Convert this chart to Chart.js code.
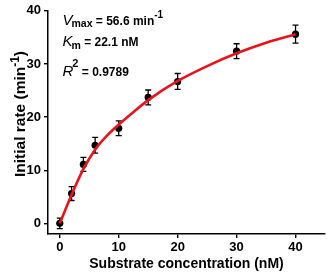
<!DOCTYPE html>
<html>
<head>
<meta charset="utf-8">
<script src="https://cdn.jsdelivr.net/npm/chart.js@4"></script>
<style>
  html, body { margin: 0; padding: 0; background: #fff; }
  #wrap { width: 331px; height: 277px; }
</style>
</head>
<body>
<div id="wrap"><canvas id="c" width="331" height="277"></canvas></div>
<script>
// Measured data (substrate concentration, nM) and initial rate (min^-1)
const substrate = [0, 2, 4, 6, 10, 15, 20, 30, 40];
const rates = [0, 5.6, 11.1, 14.7, 17.9, 23.7, 26.7, 32.4, 35.6];
const rateErrors = [1.0, 1.3, 1.3, 1.5, 1.4, 1.4, 1.5, 1.4, 1.7];

// Fitted curve
const fitX = [0, 2, 4, 6, 8, 10, 12, 15, 20, 25, 30, 35, 40];
const fitY = [0, 5.4, 10.2, 13.9, 16.5, 18.6, 20.5, 23.2, 26.8, 29.6, 32.0, 34.0, 35.6];

const xTicks = [0, 10, 20, 30, 40];
const yTicks = [0, 10, 20, 30, 40];
const xRange = [-2, 45];
const yRange = [-2, 40];

const xTitle = 'Substrate concentration (nM)';
const yTitleMain = 'Initial rate (min';
const yTitleSup = '-1';
const yTitleEnd = ')';

const annotations = [
  { sym: 'V', sub: 'max', sup: '', text: ' = 56.6 min', textSup: '-1' },
  { sym: 'K', sub: 'm', sup: '', text: ' = 22.1 nM', textSup: '' },
  { sym: 'R', sub: '', sup: '2', text: ' = 0.9789', textSup: '' }
];

const FONT = '"Liberation Sans", Arial, Helvetica, sans-serif';

const errorBarPlugin = {
  id: 'errorBars',
  beforeDatasetsDraw(chart) {
    const ctx = chart.ctx;
    const xs = chart.scales.x, ys = chart.scales.y;
    ctx.save();
    ctx.strokeStyle = '#000';
    ctx.lineWidth = 1.3;
    substrate.forEach((sx, i) => {
      const px = xs.getPixelForValue(sx);
      const top = ys.getPixelForValue(rates[i] + rateErrors[i]);
      const bot = ys.getPixelForValue(rates[i] - rateErrors[i]);
      ctx.beginPath();
      ctx.moveTo(px, top); ctx.lineTo(px, bot);
      ctx.moveTo(px - 3, top); ctx.lineTo(px + 3, top);
      ctx.moveTo(px - 3, bot); ctx.lineTo(px + 3, bot);
      ctx.stroke();
    });
    ctx.restore();
  }
};

const textPlugin = {
  id: 'texts',
  afterDraw(chart) {
    const ctx = chart.ctx;
    ctx.save();
    ctx.fillStyle = '#000';
    ctx.textBaseline = 'alphabetic';
    ctx.textAlign = 'left';
    // Annotations
    const baselines = [24.5, 46, 75.5];
    annotations.forEach((a, i) => {
      const b = baselines[i];
      let x = 62.5;
      ctx.font = 'italic 15px ' + FONT;
      ctx.fillText(a.sym, x, b);
      x += ctx.measureText(a.sym).width - 1;
      if (a.sub) {
        ctx.font = 'bold 10.5px ' + FONT;
        ctx.fillText(a.sub, x, b + 2.5);
        x += ctx.measureText(a.sub).width;
      }
      if (a.sup) {
        ctx.font = 'bold 11px ' + FONT;
        ctx.fillText(a.sup, x, b - 9);
        x += ctx.measureText(a.sup).width;
      }
      ctx.font = 'bold 12px ' + FONT;
      ctx.fillText(a.text, x, b);
      x += ctx.measureText(a.text).width;
      if (a.textSup) {
        ctx.font = 'bold 10px ' + FONT;
        ctx.fillText(a.textSup, x, b - 6.5);
      }
    });
    // Y axis title, rotated
    ctx.translate(25, 114);
    ctx.rotate(-Math.PI / 2);
    ctx.font = 'bold 15.5px ' + FONT;
    const w1 = ctx.measureText(yTitleMain).width;
    const w3 = ctx.measureText(yTitleEnd).width;
    ctx.font = 'bold 12px ' + FONT;
    const w2 = ctx.measureText(yTitleSup).width;
    let x = -(w1 + w2 + w3) / 2;
    ctx.font = 'bold 15.5px ' + FONT;
    ctx.fillText(yTitleMain, x, 0);
    x += w1;
    ctx.font = 'bold 12px ' + FONT;
    ctx.fillText(yTitleSup, x, -6);
    x += w2;
    ctx.font = 'bold 15.5px ' + FONT;
    ctx.fillText(yTitleEnd, x, 0);
    ctx.restore();
  }
};

new Chart(document.getElementById('c'), {
  type: 'scatter',
  data: {
    datasets: [
      {
        label: 'fit',
        data: fitX.map((x, i) => ({ x: x, y: fitY[i] })),
        showLine: true,
        borderColor: '#e8141c',
        borderWidth: 2.6,
        pointRadius: 0,
        cubicInterpolationMode: 'monotone',
        fill: false
      },
      {
        label: 'data',
        data: substrate.map((x, i) => ({ x: x, y: rates[i] })),
        showLine: false,
        pointRadius: 3.6,
        pointBackgroundColor: '#000',
        pointBorderColor: '#000',
        pointBorderWidth: 0
      }
    ]
  },
  options: {
    responsive: false,
    animation: false,
    devicePixelRatio: 1,
    layout: { padding: { top: 10, right: 6, left: 0, bottom: 0 } },
    plugins: { legend: { display: false }, tooltip: { enabled: false } },
    scales: {
      x: {
        type: 'linear',
        min: xRange[0], max: xRange[1],
        afterBuildTicks: (s) => { s.ticks = xTicks.map(v => ({ value: v })); },
        afterFit: (s) => { s.height = 43; },
        grid: { drawOnChartArea: false, drawTicks: true, tickLength: 4, color: '#000', lineWidth: 1.4 },
        border: { display: true, color: '#000', width: 1.5 },
        ticks: { color: '#000', font: { family: FONT, size: 13, weight: 'bold' }, padding: 2, maxRotation: 0 },
        title: { display: true, text: xTitle, color: '#000', font: { family: FONT, size: 14, weight: 'bold' }, padding: { top: 0, bottom: 4 } }
      },
      y: {
        type: 'linear',
        min: yRange[0], max: yRange[1],
        afterBuildTicks: (s) => { s.ticks = yTicks.map(v => ({ value: v })); },
        afterFit: (s) => { s.width = 48; },
        grid: { drawOnChartArea: false, drawTicks: true, tickLength: 4, color: '#000', lineWidth: 1.4 },
        border: { display: true, color: '#000', width: 1.5 },
        ticks: { color: '#000', font: { family: FONT, size: 13, weight: 'bold' }, padding: 3 }
      }
    }
  },
  plugins: [errorBarPlugin, textPlugin]
});
</script>
</body>
</html>
